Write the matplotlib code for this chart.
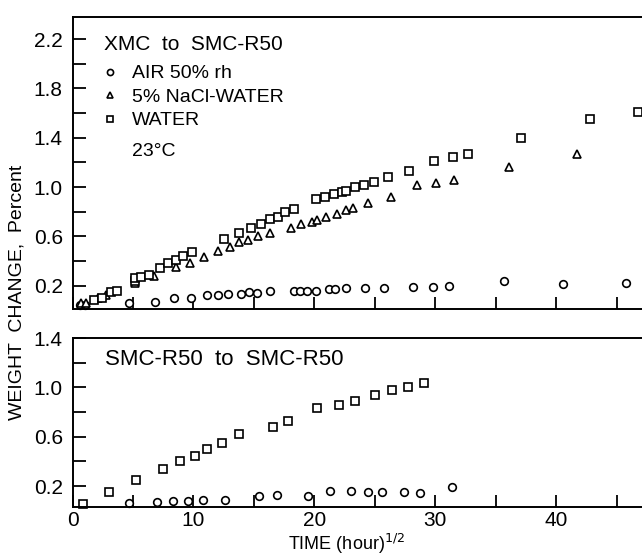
import matplotlib
matplotlib.use('Agg')
import matplotlib.pyplot as plt

plt.rcParams['font.family'] = ['Liberation Sans', 'DejaVu Sans']

# top panel: XMC to SMC-R50
air_x = [0.6, 1.0, 4.7, 6.85, 8.4, 9.8, 11.1, 12.0, 12.9, 13.9, 14.6, 15.3, 16.3, 18.3,
         18.8, 19.4, 20.1, 21.2, 21.7, 22.6, 24.2, 25.8, 28.2, 29.8, 31.15, 35.7, 40.6, 45.8]
air_y = [0.04, 0.04, 0.055, 0.07, 0.10, 0.10, 0.12, 0.125, 0.13, 0.135, 0.145, 0.14, 0.155, 0.16,
         0.155, 0.16, 0.16, 0.17, 0.17, 0.18, 0.18, 0.18, 0.19, 0.19, 0.20, 0.24, 0.21, 0.22]

nacl_x = [0.7, 1.1, 2.1, 2.8, 5.2, 6.75, 8.55, 9.7, 10.85, 12.05, 13.0, 13.8, 14.5, 15.35, 16.3,
          18.1, 18.9, 19.8, 20.2, 20.95, 21.9, 22.6, 23.2, 24.4, 26.3, 28.5, 30.1, 31.55, 36.1, 41.7]
nacl_y = [0.055, 0.06, 0.10, 0.12, 0.22, 0.275, 0.35, 0.38, 0.43, 0.48, 0.51, 0.55, 0.57, 0.60, 0.63,
          0.67, 0.70, 0.72, 0.73, 0.76, 0.78, 0.81, 0.83, 0.87, 0.92, 1.02, 1.03, 1.06, 1.16, 1.27]

water_x = [1.8, 2.4, 3.2, 3.7, 5.2, 5.2, 5.7, 6.35, 7.25, 7.9, 8.6, 9.1, 9.85, 12.5, 13.8, 14.8,
           15.6, 16.3, 17.0, 17.6, 18.3, 20.1, 20.9, 21.6, 22.3, 22.6, 23.4, 24.1, 24.9, 26.1,
           27.8, 29.9, 31.5, 32.7, 37.1, 42.8, 46.8]
water_y = [0.08, 0.10, 0.15, 0.16, 0.235, 0.26, 0.27, 0.29, 0.34, 0.38, 0.41, 0.44, 0.47, 0.58, 0.63, 0.67,
           0.70, 0.74, 0.76, 0.80, 0.82, 0.90, 0.92, 0.94, 0.96, 0.97, 1.00, 1.015, 1.04, 1.08,
           1.13, 1.21, 1.24, 1.27, 1.40, 1.55, 1.61]

# bottom panel: SMC-R50 to SMC-R50
air2_x = [4.7, 6.95, 8.3, 9.55, 10.8, 12.6, 15.45, 16.9, 19.5, 21.3, 23.0, 24.45, 25.6, 27.4, 28.75, 31.4]
air2_y = [0.06, 0.073, 0.08, 0.076, 0.09, 0.087, 0.12, 0.127, 0.12, 0.16, 0.16, 0.15, 0.15, 0.15, 0.143, 0.19]

water2_x = [0.9, 3.0, 5.25, 7.45, 8.9, 10.1, 11.1, 12.35, 13.8, 16.55, 17.85, 20.2, 22.05, 23.4,
            25.0, 26.4, 27.75, 29.1]
water2_y = [0.054, 0.154, 0.25, 0.335, 0.40, 0.44, 0.50, 0.55, 0.62, 0.68, 0.73, 0.83, 0.855, 0.89,
            0.937, 0.98, 1.0, 1.036]

top_yticks = [0.2, 0.6, 1.0, 1.4, 1.8, 2.2]
top_yminor = [0.4, 0.8, 1.2, 1.6, 2.0]
bot_yticks = [0.2, 0.6, 1.0, 1.4]
bot_yminor = [0.4, 0.8, 1.2]
xticks = [0, 10, 20, 30, 40]
xminor = [5, 15, 25, 35, 45]

W, H = 642, 557
fig = plt.figure(figsize=(W / 100, H / 100), dpi=100)

left = 72.5 / W
ax1 = fig.add_axes([left, 1 - 309 / H, 1 - left, (309 - 17) / H])
ax2 = fig.add_axes([left, 1 - 507 / H, 1 - left, (507 - 338) / H])

mk = dict(linestyle='none', mfc='white', mec='black', mew=1.2, ms=5.5, clip_on=False)
ax1.plot(air_x, air_y, marker='o', label='AIR 50% rh', **mk)
ax1.plot(nacl_x, nacl_y, marker='^', label='5% NaCl-WATER', **mk)
ax1.plot(water_x, water_y, marker='s', label='WATER', **mk)

ax2.plot(air2_x, air2_y, marker='o', **mk)
ax2.plot(water2_x, water2_y, marker='s', **mk)

ax1.set_ylim(0.01, 2.38)
ax2.set_ylim(0.03, 1.40)

for ax, yt, ym in [(ax1, top_yticks, top_yminor), (ax2, bot_yticks, bot_yminor)]:
    ax.set_xlim(0, 47.1)
    ax.set_xticks(xticks)
    ax.set_xticks(xminor, minor=True)
    ax.set_yticks(yt)
    ax.set_yticks(ym, minor=True)
    ax.set_yticklabels(['%.1f' % v for v in yt])
    ax.tick_params(which='both', direction='in', length=9, width=1.3, labelsize=15, pad=7)
    ax.spines['right'].set_visible(False)
    for s in ['left', 'bottom', 'top']:
        ax.spines[s].set_linewidth(1.4)

ax1.tick_params(axis='x', labelbottom=False)
ax2.tick_params(axis='x', pad=3)
ax2.set_xticklabels([str(v) for v in xticks])

ax1.text(0.055, 0.905, 'XMC  to  SMC-R50', transform=ax1.transAxes, fontsize=15,
         va='center', ha='left')
ax1.legend(loc='upper left', bbox_to_anchor=(0.048, 0.836), frameon=False, fontsize=14,
           handlelength=1.0, handletextpad=0.65, labelspacing=0.3, borderpad=0,
           borderaxespad=0, markerscale=0.8)
ax1.text(0.1045, 0.538, '23°C', transform=ax1.transAxes, fontsize=14, va='center', ha='left')

ax2.text(0.057, 0.87, 'SMC-R50  to  SMC-R50', transform=ax2.transAxes, fontsize=16,
         va='center', ha='left')

fig.text(17 / W, 1 - 292 / H, 'WEIGHT  CHANGE,  Percent', rotation=90, fontsize=14,
         ha='center', va='center')
fig.text(346 / W, 1 / H, 'TIME (hour)$^{1/2}$', fontsize=13, ha='center', va='bottom')

plt.savefig('out.png', dpi=100)
